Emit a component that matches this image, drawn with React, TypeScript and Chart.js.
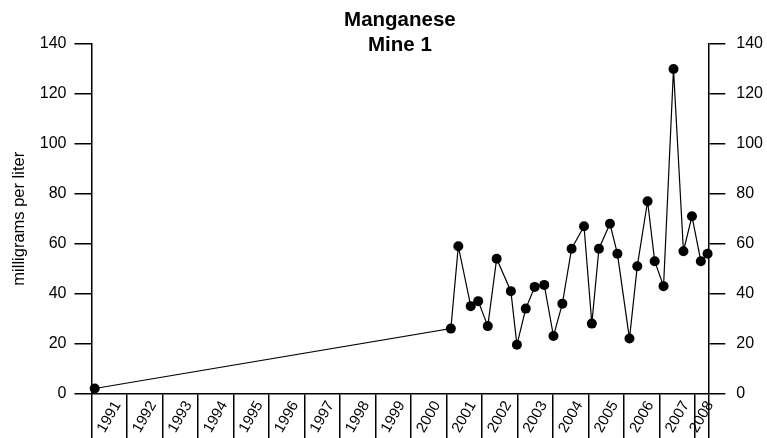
import React, { useEffect, useRef } from 'react';
import { Chart, registerables } from 'chart.js';

Chart.register(...registerables);

// ---- data ----
const sampleDates: number[] = [
  1991.09, 2001.12, 2001.33, 2001.68, 2001.89, 2002.16, 2002.41, 2002.81, 2002.98, 2003.23,
  2003.48, 2003.75, 2004.01, 2004.26, 2004.52, 2004.87, 2005.09, 2005.29, 2005.6, 2005.81,
  2006.15, 2006.37, 2006.66, 2006.86, 2007.11, 2007.39, 2007.67, 2007.91, 2008.16, 2008.35,
];
const manganese: number[] = [
  2, 26, 59, 35, 37, 27, 54, 41, 19.5, 34,
  42.7, 43.5, 23, 36, 58, 67, 28, 58, 68, 56,
  22, 51, 77, 53, 43, 130, 57, 71, 53, 56,
];
const yearLabels: string[] = [
  '1991', '1992', '1993', '1994', '1995', '1996', '1997', '1998', '1999',
  '2000', '2001', '2002', '2003', '2004', '2005', '2006', '2007', '2008',
];
const xMin = 1991;
const xMax = 2008.37;
const yMin = 0;
const yMax = 140;
const yStep = 20;
const chartTitle: string[] = ['Manganese', 'Mine 1'];
const yAxisTitle = 'milligrams per liter';

const FONT = '"Liberation Sans", Arial, Helvetica, sans-serif';
const LABEL_SHIFT = 0.235; // shift (years) to center rotated, right-aligned labels in their year

export default function App() {
  const canvasRef = useRef<HTMLCanvasElement | null>(null);

  useEffect(() => {
    if (!canvasRef.current) return;
    Chart.defaults.font.family = FONT;
    const axisGrid = {
      drawOnChartArea: false,
      drawTicks: true,
      tickLength: 17,
      color: '#000',
      lineWidth: 1.5,
    };
    const chart = new Chart(canvasRef.current, {
      type: 'line',
      data: {
        datasets: [
          {
            data: sampleDates.map((x, i) => ({ x, y: manganese[i] })),
            borderColor: '#000',
            borderWidth: 1.2,
            pointRadius: 5,
            pointBackgroundColor: '#000',
            pointBorderWidth: 0,
            tension: 0,
            clip: false,
            yAxisID: 'y',
          },
        ],
      },
      options: {
        responsive: false,
        animation: false,
        layout: { padding: 0 },
        plugins: {
          legend: { display: false },
          tooltip: { enabled: false },
          title: {
            display: true,
            fullSize: false,
            text: chartTitle,
            color: '#000',
            font: { family: FONT, size: 20.5, weight: 'bold', lineHeight: 1.2 },
            padding: { top: 8.5, bottom: -13.7 },
          },
        },
        scales: {
          x: {
            type: 'linear',
            position: 'bottom',
            min: xMin,
            max: xMax,
            afterBuildTicks: (scale: any) => {
              const ticks: any[] = [];
              yearLabels.forEach((lab) => {
                const start = Number(lab);
                const end = Math.min(start + 1, xMax);
                ticks.push({ value: start, divider: true, text: '' });
                ticks.push({ value: (start + end) / 2 + LABEL_SHIFT, divider: false, text: lab });
              });
              ticks.push({ value: xMax, divider: true, text: '' });
              ticks.sort((a, b) => a.value - b.value);
              scale.ticks = ticks;
            },
            afterFit: (scale: any) => {
              scale.height = 44.5;
            },
            ticks: {
              autoSkip: false,
              minRotation: 60,
              maxRotation: 60,
              padding: -40.5,
              color: '#000',
              font: { family: FONT, size: 15 },
              callback: (_v: any, i: number, ticks: any[]) => ticks[i].text,
            },
            grid: {
              drawOnChartArea: false,
              drawTicks: true,
              tickLength: 45,
              lineWidth: 1.5,
              color: (ctx: any) => (ctx.tick && ctx.tick.divider ? '#000' : 'rgba(0,0,0,0)'),
            },
            border: { display: true, color: '#000', width: 1.5 },
          },
          y: {
            type: 'linear',
            position: 'left',
            min: yMin,
            max: yMax,
            afterFit: (scale: any) => {
              scale.width = 91.5;
            },
            ticks: {
              stepSize: yStep,
              padding: 8,
              color: '#000',
              font: { family: FONT, size: 16 },
            },
            grid: axisGrid,
            border: { display: true, color: '#000', width: 1.5 },
            title: {
              display: true,
              text: yAxisTitle,
              color: '#000',
              font: { family: FONT, size: 16.5, lineHeight: 1.2 },
              padding: { top: 10, bottom: 0 },
            },
          },
          y2: {
            type: 'linear',
            position: 'right',
            min: yMin,
            max: yMax,
            afterFit: (scale: any) => {
              scale.width = 58.7;
            },
            ticks: {
              stepSize: yStep,
              padding: 11,
              color: '#000',
              font: { family: FONT, size: 16 },
            },
            grid: axisGrid,
            border: { display: true, color: '#000', width: 1.5 },
          },
        },
      } as any,
    });
    return () => chart.destroy();
  }, []);

  return (
    <div style={{ position: 'absolute', left: 0, top: 0, width: 767, height: 438, background: '#fff' }}>
      <canvas ref={canvasRef} width={767} height={438} style={{ display: 'block' }} />
    </div>
  );
}
